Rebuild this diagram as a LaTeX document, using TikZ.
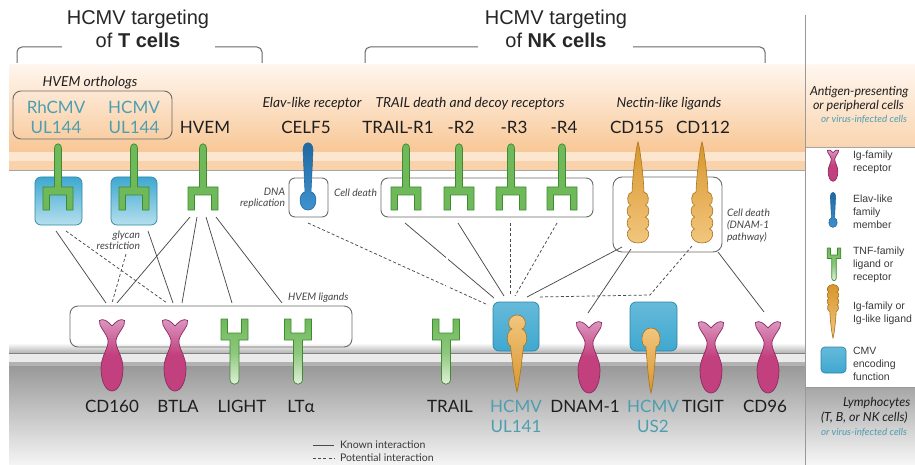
\documentclass[tikz,border=0pt]{standalone}
\usepackage{fontspec}
\setmainfont{Liberation Sans}
\newfontfamily\lat{Lato}

\definecolor{peach}{HTML}{F8C796}
\definecolor{peachlt}{HTML}{FFF6EE}
\definecolor{peachmem}{HTML}{FDE6D0}
\definecolor{tnfg}{HTML}{6FB95A}
\definecolor{tnfdk}{HTML}{3D8A31}
\definecolor{tnflt}{HTML}{E6F3E0}
\definecolor{igp}{HTML}{C3407F}
\definecolor{igplt}{HTML}{DC9AC2}
\definecolor{igpdk}{HTML}{8A2C5E}
\definecolor{igo}{HTML}{D8962E}
\definecolor{igolt}{HTML}{F2C67E}
\definecolor{igodk}{HTML}{A8741E}
\definecolor{cmvc}{HTML}{3FA8D0}
\definecolor{cmvlt}{HTML}{B6E0EE}
\definecolor{cmvdk}{HTML}{2C86A6}
\definecolor{elavdk}{HTML}{1F679F}
\definecolor{elavlt}{HTML}{3F92CF}
\definecolor{hcmvc}{HTML}{4E9EB0}
\definecolor{connc}{HTML}{4A4A4A}
\definecolor{boxc}{HTML}{6A6A6A}
\definecolor{labc}{HTML}{1E1E1E}
\definecolor{notec}{HTML}{444444}
\definecolor{legc}{HTML}{3A3A3A}

\tikzset{
  % TNF-family receptor hanging from the upper membrane
  tnfrec/.pic={
    \path[draw=tnfdk, line width=0.7pt, line join=round, fill=tnfg]
      (-3.5,7) .. controls (-3.5,0) and (3.5,0) .. (3.5,7) -- (3.5,45) -- (15,45)
      -- (15,68) -- (8.5,68) -- (8.5,53) -- (-8.5,53) -- (-8.5,68) -- (-15,68)
      -- (-15,45) -- (-3.5,45) -- cycle;
  },
  % TNF-family ligand standing on the lower membrane
  tnflig/.pic={
    \path[draw=tnfdk, line width=0.7pt, line join=round,
          top color=tnfg, bottom color=tnflt, middle color=tnfg!75!tnflt]
      (-13.5,0) -- (-7,0) -- (-7,14) -- (7,14) -- (7,0) -- (13.5,0) -- (13.5,21)
      -- (4.5,21) -- (4.5,60) .. controls (4.5,67) and (-4.5,67) .. (-4.5,60)
      -- (-4.5,21) -- (-13.5,21) -- cycle;
  },
  % Ig-family receptor (cup on top, bulb below)
  igrec/.pic={
    \path[draw=igpdk, line width=0.7pt,
          top color=igplt, bottom color=igp, middle color=igp]
      (0,6) .. controls (-4,1) and (-9,-2) .. (-12.5,0.5)
      .. controls (-14,6) and (-6,12) .. (-4,20)
      .. controls (-3,28) and (-11,36) .. (-11,48)
      .. controls (-11,62) and (-6,71) .. (0,71)
      .. controls (6,71) and (11,62) .. (11,48)
      .. controls (11,36) and (3,28) .. (4,20)
      .. controls (6,12) and (14,6) .. (12.5,0.5)
      .. controls (9,-2) and (4,1) .. (0,6) -- cycle;
  },
  % Nectin-like ligand: spike with beaded end
  nectin/.pic={
    \path[draw=igodk, line width=0.6pt, top color=igo, bottom color=igolt]
      (0,0) .. controls (1.5,4) and (5,28) .. (6,50)
      .. controls (11,50) and (12,62) .. (7.5,63)
      .. controls (12,64) and (12,74) .. (7.5,75)
      .. controls (12,76) and (12,86) .. (7.5,87)
      .. controls (13,88) and (12,101) .. (0,101)
      .. controls (-12,101) and (-13,88) .. (-7.5,87)
      .. controls (-12,86) and (-12,76) .. (-7.5,75)
      .. controls (-12,74) and (-12,64) .. (-7.5,63)
      .. controls (-12,62) and (-11,50) .. (-6,50)
      .. controls (-5,28) and (-1.5,4) .. (0,0) -- cycle;
  },
  % viral UL141 glycoprotein
  ulshape/.pic={
    \path[draw=igodk, line width=0.6pt, top color=igolt, bottom color=igo]
      (0,0) .. controls (-10,0) and (-10,13) .. (-5,14)
      .. controls (-11,16) and (-11,29) .. (-6.5,31)
      .. controls (-5,45) and (-2,70) .. (0,77)
      .. controls (2,70) and (5,45) .. (6.5,31)
      .. controls (11,29) and (11,16) .. (5,14)
      .. controls (10,13) and (10,0) .. (0,0) -- cycle;
  },
  % viral US2 glycoprotein
  usshape/.pic={
    \path[draw=igodk, line width=0.6pt, top color=igolt, bottom color=igo]
      (0,0) .. controls (-11,0) and (-11,18) .. (-5,19)
      .. controls (-4,35) and (-2,58) .. (0,65)
      .. controls (2,58) and (4,35) .. (5,19)
      .. controls (11,18) and (11,0) .. (0,0) -- cycle;
  },
  % Elav-like family member
  elavshape/.pic={
    \path[draw=elavdk, line width=0.6pt, top color=elavdk, bottom color=elavlt]
      (-5,8) .. controls (-5,-1.5) and (5,-1.5) .. (5,8) -- (3,50)
      .. controls (10,51) and (10,68) .. (0,68)
      .. controls (-10,68) and (-10,51) .. (-3,50) -- cycle;
  },
}

\begin{document}
\begin{tikzpicture}[x=1pt,y=-1pt,
  every node/.style={inner sep=0pt, outer sep=0pt},
  hdr/.style={anchor=base, font=\fontsize{20}{22}\selectfont, text=black!85},
  lab/.style={anchor=base, font=\lat\fontsize{17}{20}\selectfont, text=labc},
  vlab/.style={lab, text=hcmvc},
  grp/.style={anchor=base, font=\lat\itshape\fontsize{13.8}{15}\selectfont, text=labc},
  note/.style={font=\lat\itshape\fontsize{10.3}{12}\selectfont, text=notec},
  leg/.style={anchor=west, align=left, font=\fontsize{10.5}{13}\selectfont, text=legc},
  side/.style={anchor=west, font=\lat\itshape\fontsize{12.5}{14}\selectfont, text=labc},
  sidev/.style={anchor=west, font=\lat\itshape\fontsize{9.8}{11}\selectfont, text=hcmvc},
  brk/.style={draw=black!60, line width=1pt, rounded corners=5pt},
  conn/.style={draw=connc, line width=0.75pt},
  pot/.style={conn, dash pattern=on 3pt off 2.2pt},
  dbl/.style={draw=connc, line width=0.6pt, double=white, double distance=1.6pt},
  grpbox/.style={draw=boxc, line width=0.9pt, rounded corners=8pt},
  cmvbox/.style={draw=cmvdk, line width=0.7pt, rounded corners=6pt,
                 top color=cmvc, bottom color=cmvlt},
  cmvboxlow/.style={draw=cmvdk, line width=0.7pt, rounded corners=6pt,
                 top color=cmvc!80!white, bottom color=cmvc},
]
\useasboundingbox (0,0) rectangle (915,465);
\clip (0,0) rectangle (915,465);

% ---- cell backgrounds ----
% presenting cell (top)
\shade[top color=peachlt, bottom color=peach] (9,65) rectangle (805,152);
\fill[peachmem] (9,152) rectangle (805,161);
\fill[peach!80!white] (9,161) rectangle (805,170);
\draw[draw=black!35, line width=0.8pt] (9,170) -- (805,170);
\shade[top color=peachlt, bottom color=peach!75!white] (805,65) rectangle (915,147);
\draw[draw=black!35, line width=0.8pt] (805,147) -- (915,147);
% lymphocyte (bottom)
\shade[top color=white, bottom color=black!30] (9,343) rectangle (805,353);
\draw[draw=black!50, line width=0.8pt] (9,353) -- (805,353);
\fill[black!8] (9,353.5) rectangle (805,362);
\fill[black!30] (9,362) rectangle (805,366);
\shade[top color=black!40, bottom color=black!4] (9,366) rectangle (805,465);
\shade[top color=black!35, bottom color=black!3] (805,387) rectangle (915,465);
\draw[draw=black!40, line width=0.8pt] (805,387) -- (915,387);
% panel divider
\draw[draw=black!40, line width=1pt] (805,15) -- (805,465);

% ---- headings ----
\node[hdr] (tcA) at (138,25) {HCMV targeting};
\node[hdr] (tcB) at (138,48) {of \textbf{T cells}};
\node[hdr] (nkA) at (556,25) {HCMV targeting};
\node[hdr] (nkB) at (556,48) {of \textbf{NK cells}};
\draw[brk] (17,63) -- (17,47) -- (62,47);
\draw[brk] (215,47) -- (262,47) -- (262,63);
\draw[brk] (365,63) -- (365,47) -- (478,47);
\draw[brk] (633,47) -- (765,47) -- (765,63);

% ---- interaction lines ----
\coordinate (rhA) at (56,231);
\coordinate (rhB) at (66,231);
\coordinate (hcA) at (126,254);
\coordinate (hcB) at (148,231);
\coordinate (hvA) at (190,217);
\coordinate (hvB) at (197,217);
\coordinate (hvC) at (206,217);
\coordinate (hvD) at (216,217);
\coordinate (cdA) at (106,303);
\coordinate (cdB) at (112,303);
\coordinate (cdC) at (117,303);
\coordinate (btA) at (167,303);
\coordinate (btB) at (173,303);
\coordinate (btC) at (182,303);
\coordinate (liA) at (232,303);
\coordinate (ltA) at (282,303);
\draw[conn] (rhA) -- (cdA);
\draw[pot]  (rhB) -- (btA);
\draw[pot]  (hcA) -- (cdB);
\draw[conn] (hcB) -- (btB);
\draw[conn] (hvA) -- (cdC);
\draw[conn] (hvB) -- (btC);
\draw[conn] (hvC) -- (liA);
\draw[conn] (hvD) -- (ltA);

\coordinate (ceA) at (308,223);
\coordinate (r1A) at (405,223);
\coordinate (r2A) at (458,223);
\coordinate (r3A) at (510,223);
\coordinate (r4A) at (557,223);
\coordinate (trA) at (447,217);
\coordinate (trB) at (447,313);
\coordinate (ulA) at (488,305);
\coordinate (ulB) at (494,298);
\coordinate (ulC) at (504,296);
\coordinate (ulD) at (510,294);
\coordinate (ulE) at (515,296);
\coordinate (ulF) at (527,297);
\coordinate (ulG) at (538,297);
\coordinate (neA) at (622,247);
\coordinate (neB) at (631,249);
\coordinate (neC) at (692,246);
\coordinate (neBend) at (650,295);
\coordinate (neD) at (709,252);
\coordinate (neE) at (718,252);
\coordinate (dnA) at (588,313);
\coordinate (tiA) at (709,313);
\coordinate (c9A) at (764,312);
\draw[pot]  (ceA) -- (ulA);
\draw[conn] (r1A) -- (ulB);
\draw[conn] (r2A) -- (ulC);
\draw[pot]  (r3A) -- (ulD);
\draw[pot]  (r4A) -- (ulE);
\draw[dbl]  (trA) -- (trB);
\draw[conn] (neA) -- (ulF);
\draw[conn] (neB) -- (dnA);
\draw[pot]  (neC) -- (neBend) -- (ulG);
\draw[dbl]  (neD) -- (tiA);
\draw[conn] (neE) -- (c9A);

% ---- grouping boxes ----
\draw[grpbox] (13,91) rectangle (172,139);
\draw[grpbox, rounded corners=6pt] (289,178) rectangle (328,217);
\draw[grpbox, rounded corners=7pt] (381,178) rectangle (593,217);
\draw[grpbox, rounded corners=9pt] (613,177) rectangle (722,252);
\draw[grpbox] (70,306) rectangle (352,347);
\path[cmvbox] (35,177) rectangle (82,225);
\path[cmvbox] (111,177) rectangle (157,225);
\path[cmvboxlow] (493,302) rectangle (539,351);
\path[cmvboxlow] (630,302) rectangle (677,351);

% ---- molecules on the presenting cell ----
\pic at (58,142) {tnfrec};
\pic at (134,142) {tnfrec};
\pic at (203,142) {tnfrec};
\pic at (308,142) {elavshape};
\pic at (406,142) {tnfrec};
\pic at (459,142) {tnfrec};
\pic at (511,142) {tnfrec};
\pic at (562,142) {tnfrec};
\pic at (638,142) {nectin};
\pic at (702,142) {nectin};

% ---- molecules on the lymphocyte ----
\pic at (112,320) {igrec};
\pic at (175,320) {igrec};
\pic at (234.5,319) {tnflig};
\pic at (298,319) {tnflig};
\pic at (446,319) {tnflig};
\pic at (517,315) {ulshape};
\pic at (589,322) {igrec};
\pic at (651,328) {usshape};
\pic at (711,322) {igrec};
\pic at (768,322) {igrec};

% ---- labels, presenting cell ----
\node[grp] (orthoT) at (90,87) {HVEM orthologs};
\node[vlab] (rhA1) at (56,114) {RhCMV};
\node[vlab] (rhA2) at (56,134) {UL144};
\node[vlab] (hcA1) at (134,114) {HCMV};
\node[vlab] (hcA2) at (134,134) {UL144};
\node[lab] (hvemT) at (205,134) {HVEM};
\node[grp] (elavT) at (312,108) {Elav-like receptor};
\node[lab] (celfT) at (306,134) {CELF5};
\node[grp] (trailT) at (470,108) {TRAIL death and decoy receptors};
\node[lab] (r1T) at (398,134) {TRAIL-R1};
\node[lab] (r2T) at (461,134) {-R2};
\node[lab] (r3T) at (514,134) {-R3};
\node[lab] (r4T) at (564,134) {-R4};
\node[grp] (nectT) at (669,108) {Nectin-like ligands};
\node[lab] (cd155T) at (637,134) {CD155};
\node[lab] (cd112T) at (703,134) {CD112};

% ---- small notes ----
\node[note, anchor=east, align=right] (glyT) at (140,240) {glycan\\[-1pt]restriction};
\node[note, anchor=east, align=right] (dnaT) at (285,198) {DNA\\[-1pt]replication};
\node[note, anchor=west] (deathT) at (334,193) {Cell death};
\node[note, anchor=west, align=left] (dnamT) at (727,226) {Cell death\\(DNAM-1\\pathway)};
\node[note, anchor=west] (hlT) at (288,298) {HVEM ligands};

% ---- labels, lymphocyte ----
\node[lab] (cd160T) at (112,412) {CD160};
\node[lab] (btlaT) at (178,412) {BTLA};
\node[lab] (lightT) at (242,412) {LIGHT};
\node[lab] (ltaT) at (301,412) {LTα};
\node[lab] (trailL) at (450,412) {TRAIL};
\node[vlab] (ul141A) at (516,412) {HCMV};
\node[vlab] (ul141B) at (516,432) {UL141};
\node[lab] (dnamL) at (585,412) {DNAM-1};
\node[vlab] (us2A) at (653,412) {HCMV};
\node[vlab] (us2B) at (653,432) {US2};
\node[lab] (tigitL) at (703,412) {TIGIT};
\node[lab] (cd96L) at (765,412) {CD96};

% ---- line key ----
\coordinate (kA) at (313,445);
\coordinate (kB) at (334,445);
\coordinate (pA) at (313,458);
\coordinate (pB) at (334,458);
\draw[conn] (kA) -- (kB);
\draw[pot] (pA) -- (pB);
\node[anchor=west, font=\lat\fontsize{10.5}{12}\selectfont, text=legc] (knownT) at (340,445) {Known interaction};
\node[anchor=west, font=\lat\fontsize{10.5}{12}\selectfont, text=legc] (potT) at (340,458) {Potential interaction};

% ---- side panel ----
\node[side] (apcA) at (810,92) {Antigen-presenting};
\node[side] (apcB) at (813,106) {or peripheral cells};
\node[sidev] (apcC) at (821,120) {or virus-infected cells};

\pic[scale=0.44] at (833,150) {igrec};
\node[leg] (kIg) at (853,162) {Ig-family\\receptor};
\pic[scale=0.52] at (833,192) {elavshape};
\node[leg] (kElav) at (853,212) {Elav-like\\family\\member};
\pic[scale=0.5] at (834,248) {tnflig};
\node[leg] (kTnf) at (853,265) {TNF-family\\ligand or\\receptor};
\pic[scale=0.53, yscale=-1] at (833,338) {nectin};
\node[leg] (kLig) at (853,313) {Ig-family or\\Ig-like ligand};
\path[cmvboxlow, rounded corners=4pt] (821,347) rectangle (846,373);
\node[leg] (kCmv) at (853,364) {CMV\\encoding\\function};

\node[side] (lymA) at (843,403) {Lymphocytes};
\node[side] (lymB) at (821,418) {(T, B, or NK cells)};
\node[sidev] (lymC) at (821,432) {or virus-infected cells};
\end{tikzpicture}
\end{document}
